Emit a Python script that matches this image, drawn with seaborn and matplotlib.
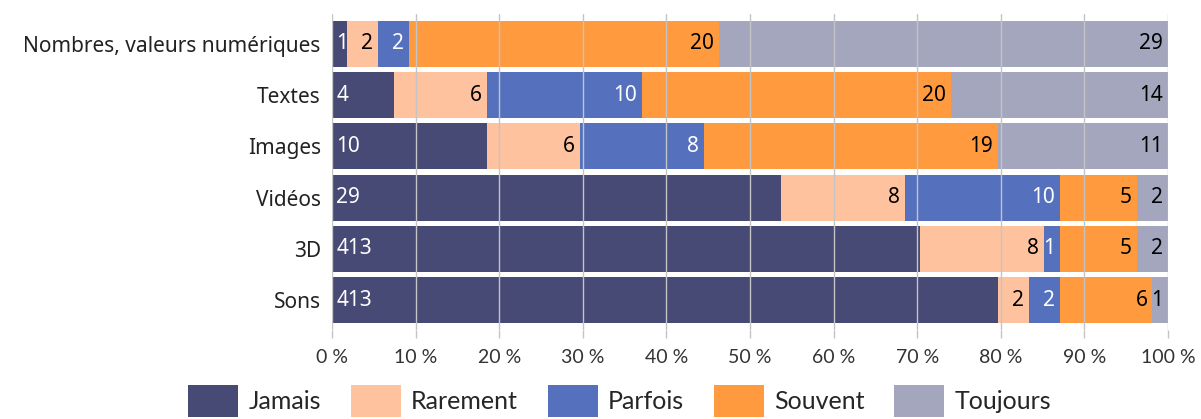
import numpy as np
import pandas as pd
import matplotlib
matplotlib.use("Agg")
import matplotlib.pyplot as plt
from matplotlib.patches import Patch
import seaborn as sns

categories = ["Nombres, valeurs numériques", "Textes", "Images", "Vidéos", "3D", "Sons"]
series = ["Jamais", "Rarement", "Parfois", "Souvent", "Toujours"]
jamais = [1, 4, 10, 29, 38, 43]
rarement = [2, 6, 6, 8, 8, 2]
parfois = [2, 10, 8, 10, 1, 2]
souvent = [20, 20, 19, 5, 5, 6]
toujours = [29, 14, 11, 2, 2, 1]
jamais_labels = ["1", "4", "10", "29", "413", "413"]
colors = ["#474A75", "#FEC29F", "#5571BD", "#FF9A3F", "#A3A6BD"]
label_colors = ["white", "black", "white", "black", "black"]

counts = np.array([jamais, rarement, parfois, souvent, toujours], dtype=float)
pct = counts / counts.sum(axis=0) * 100
cum = pct.cumsum(axis=0)

sns.set_theme(style="white")
plt.rcParams["font.family"] = ["Noto Sans", "DejaVu Sans"]

fig = plt.figure(figsize=(12.01, 4.19), dpi=100)
ax = fig.add_axes([0.2764, 0.2124, 0.6961, 0.7542])

# draw cumulative layers from the last series to the first
for i in range(len(series) - 1, -1, -1):
    df = pd.DataFrame({"cat": categories, "val": cum[i]})
    sns.barplot(data=df, y="cat", x="val", color=colors[i], saturation=1,
                width=0.9, linewidth=0, edgecolor="none", ax=ax, zorder=1)

for i in range(len(series)):
    for j in range(len(categories)):
        if i == 0:
            ax.text(0.5, j, jamais_labels[j], ha="left", va="center",
                    color=label_colors[i], fontsize=15, zorder=4)
        else:
            ax.text(cum[i][j] - 0.6, j, str(int(counts[i][j])), ha="right",
                    va="center", color=label_colors[i], fontsize=15, zorder=4)

ax.set_xlim(0, 100)
ax.set_ylim(5.58, -0.58)
ax.set_xticks(range(0, 101, 10))
ax.set_xticklabels([f"{v} %" for v in range(0, 101, 10)], fontsize=14,
                   family=["Lato", "DejaVu Sans"], color="#333333")
ax.tick_params(axis="y", labelsize=15, length=0, pad=8, labelcolor="#222222")
ax.tick_params(axis="x", length=6, width=1.0, color="#C4C4C4", pad=8,
               bottom=True, direction="out")
ax.set_xlabel("")
ax.set_ylabel("")
for x in range(0, 101, 10):
    ax.axvline(x, color="#C4C4C4", lw=1.0, zorder=3)
for s in ax.spines.values():
    s.set_visible(False)

handles = [Patch(facecolor=c, edgecolor="none") for c in colors]
fig.legend(handles, series, loc="center", bbox_to_anchor=(0.516, 0.043),
           ncol=5, frameon=False, handlelength=2.0, handleheight=1.6,
           handletextpad=0.4, columnspacing=1.2,
           prop={"family": ["Lato", "DejaVu Sans"], "size": 18})

fig.savefig("out.png", dpi=100)
